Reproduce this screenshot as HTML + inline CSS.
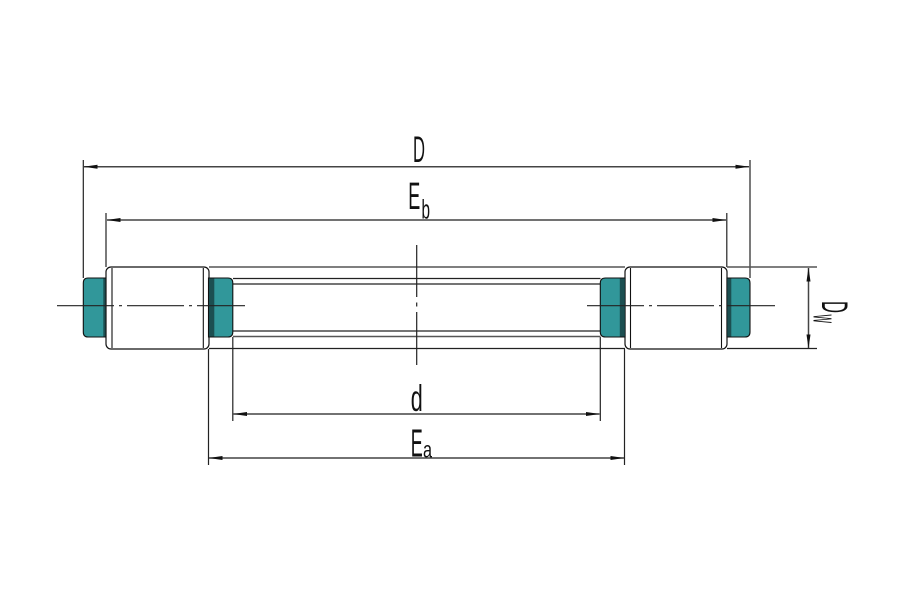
<!DOCTYPE html>
<html><head><meta charset="utf-8"><style>
html,body{margin:0;padding:0;background:#fff;}
svg{display:block;}
text{font-family:"Liberation Sans",sans-serif;fill:#111;}
</style></head><body>
<svg width="900" height="600" viewBox="0 0 900 600" xmlns="http://www.w3.org/2000/svg">
<rect width="900" height="600" fill="#fff"/>
<!-- extension lines -->
<g stroke="#222" stroke-width="1.2" fill="none">
<line x1="83.3" y1="160" x2="83.3" y2="278"/>
<line x1="750" y1="160" x2="750" y2="278"/>
<line x1="106" y1="213" x2="106" y2="267"/>
<line x1="726.8" y1="213" x2="726.8" y2="267"/>
<line x1="208.5" y1="349" x2="208.5" y2="465"/>
<line x1="232.8" y1="337" x2="232.8" y2="421"/>
<line x1="600.3" y1="337" x2="600.3" y2="421"/>
<line x1="624.5" y1="349" x2="624.5" y2="465"/>
</g>
<!-- dimension lines -->
<g stroke="#444" stroke-width="1.5">
<line x1="84" y1="166.7" x2="749" y2="166.7"/>
<line x1="107" y1="220" x2="726" y2="220"/>
<line x1="233.5" y1="414" x2="599.5" y2="414"/>
<line x1="209" y1="458" x2="624" y2="458"/>
<line x1="808.5" y1="268" x2="808.5" y2="348"/>
</g>
<g fill="#111">
<polygon points="83.5,166.7 97.5,164.7 97.5,168.7"/>
<polygon points="749.5,166.7 735.5,164.7 735.5,168.7"/>
<polygon points="106.5,220 120.5,218 120.5,222"/>
<polygon points="726.5,220 712.5,218 712.5,222"/>
<polygon points="233,414 247,412 247,416"/>
<polygon points="600,414 586,412 586,416"/>
<polygon points="208.5,458 222.5,456 222.5,460"/>
<polygon points="624.5,458 610.5,456 610.5,460"/>
<polygon points="808.5,267.5 806.5,281.5 810.5,281.5"/>
<polygon points="808.5,348.5 806.5,334.5 810.5,334.5"/>
</g>
<!-- horizontal body lines -->
<g stroke="#555" stroke-width="1.6">
<line x1="209" y1="267" x2="625" y2="267"/>
<line x1="727" y1="267" x2="817" y2="267"/>
<line x1="233" y1="336.5" x2="600.5" y2="336.5"/>
</g>
<g stroke="#222" stroke-width="1.2">
<line x1="209" y1="348.5" x2="625" y2="348.5"/>
<line x1="727" y1="348.5" x2="817" y2="348.5"/>
<line x1="233" y1="278.5" x2="600.5" y2="278.5"/>
<line x1="233" y1="284" x2="600.5" y2="284"/>
<line x1="233" y1="331" x2="600.5" y2="331"/>
</g>
<!-- rollers -->
<g stroke="#111" stroke-width="1.2" fill="#fff">
<rect x="106" y="267" width="103" height="82" rx="5"/>
<rect x="625" y="267" width="102" height="82" rx="5"/>
</g>
<g stroke="#111" stroke-width="1.1">
<line x1="112" y1="268" x2="112" y2="348"/>
<line x1="203.3" y1="268" x2="203.3" y2="348"/>
<line x1="630.5" y1="268" x2="630.5" y2="348"/>
<line x1="721.5" y1="268" x2="721.5" y2="348"/>
</g>
<!-- teal cages -->
<g fill="#31979a" stroke="#111" stroke-width="1.1">
<path d="M105.5,278 H88 Q83.3,278 83.3,283 V332 Q83.3,337 88,337 H105.5 Z"/>
<path d="M208.5,278 H228 Q232.8,278 232.8,283 V332 Q232.8,337 228,337 H208.5 Z"/>
<path d="M625,278 H605.5 Q600.3,278 600.3,283 V332 Q600.3,337 605.5,337 H625 Z"/>
<path d="M727,278 H745 Q750,278 750,283 V332 Q750,337 745,337 H727 Z"/>
</g>
<g fill="#1c4f51">
<rect x="103.3" y="278.5" width="2.2" height="58"/>
<rect x="209" y="278.5" width="5.3" height="58"/>
<rect x="619.8" y="278.5" width="5" height="58"/>
<rect x="727.3" y="278.5" width="4" height="58"/>
</g>
<!-- center lines -->
<g stroke="#222" stroke-width="1.2" fill="none">
<line x1="57" y1="305.7" x2="245" y2="305.7" stroke-dasharray="57 5 3 5"/>
<line x1="587" y1="305.7" x2="775" y2="305.7" stroke-dasharray="57 5 3 5"/>
<line x1="416.7" y1="245" x2="416.7" y2="297"/>
<line x1="416.7" y1="302.5" x2="416.7" y2="306.5"/>
<line x1="416.7" y1="312" x2="416.7" y2="365"/>
</g>
<!-- labels -->
<text x="413" y="162" font-size="37" textLength="12" lengthAdjust="spacingAndGlyphs">D</text>
<text x="408.3" y="209" font-size="38" textLength="12" lengthAdjust="spacingAndGlyphs">E</text>
<text x="421.5" y="218.3" font-size="27" textLength="8.5" lengthAdjust="spacingAndGlyphs">b</text>
<text x="410.8" y="411" font-size="37" textLength="12" lengthAdjust="spacingAndGlyphs">d</text>
<text x="410.7" y="456.5" font-size="39" textLength="12" lengthAdjust="spacingAndGlyphs">E</text>
<text x="423" y="457.3" font-size="23" textLength="9" lengthAdjust="spacingAndGlyphs">a</text>
<text transform="translate(822,301) rotate(90)" font-size="37" textLength="12" lengthAdjust="spacingAndGlyphs">D</text>
<text transform="translate(813.5,314.5) rotate(90)" font-size="34" textLength="8.5" lengthAdjust="spacingAndGlyphs">w</text>
</svg>
</body></html>
